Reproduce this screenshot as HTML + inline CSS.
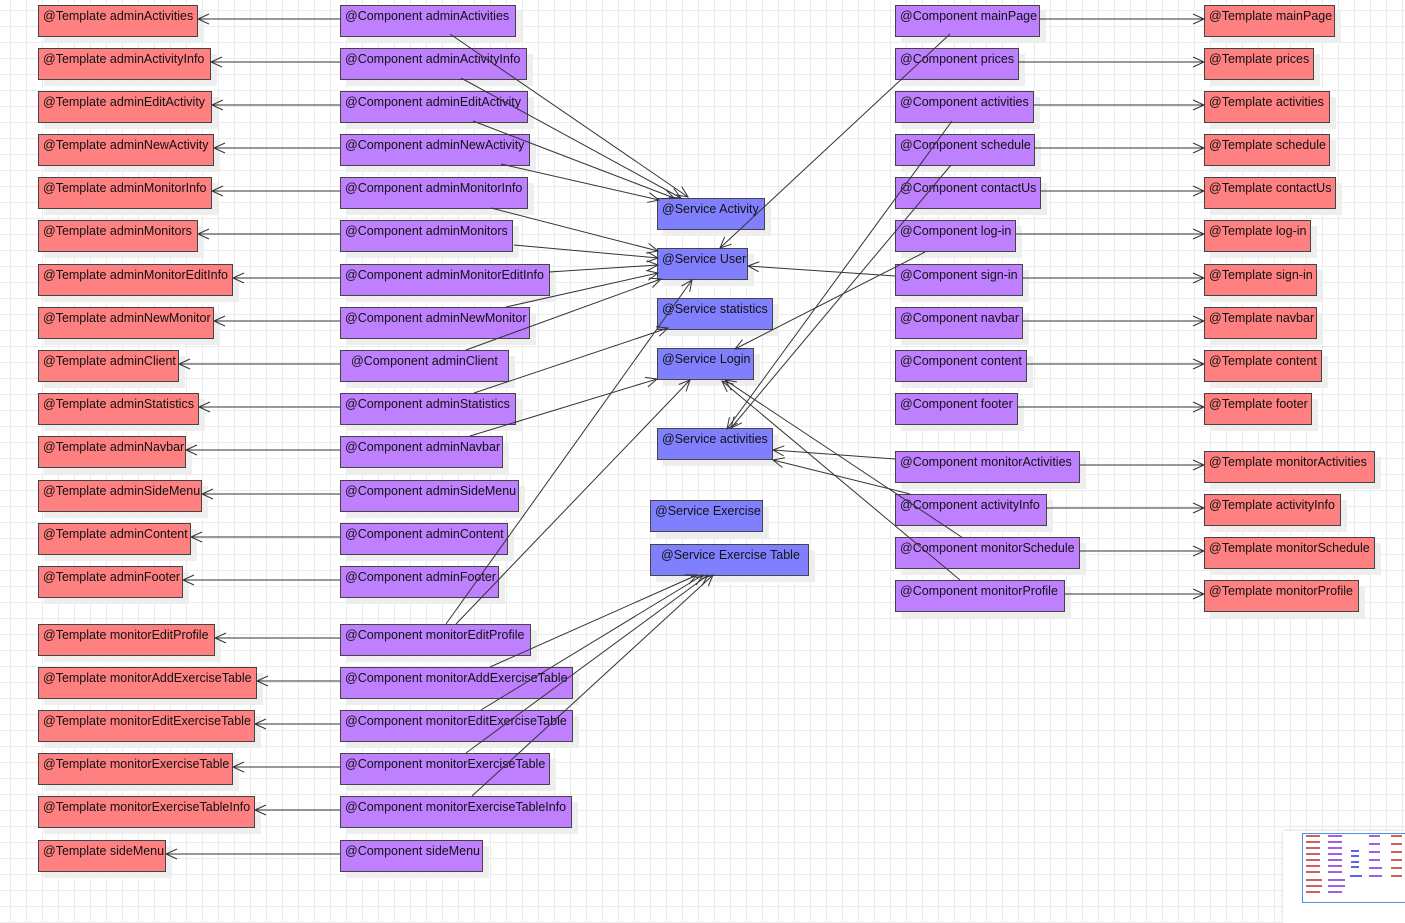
<!DOCTYPE html>
<html><head><meta charset="utf-8"><style>
body{margin:0;width:1405px;height:923px;overflow:hidden;background:#fff;
background-image:linear-gradient(#ebebeb 1px,transparent 1px),linear-gradient(90deg,#ebebeb 1px,transparent 1px);background-size:16px 16px;background-position:-6px -6px;font-family:"Liberation Sans",sans-serif;}
.b{position:absolute;height:27px;border:1px solid #444;box-sizing:content-box;font-size:12.5px;line-height:14px;padding:3px 0 0 4px;color:#111;white-space:nowrap;box-shadow:6px 6px 0 #eee;z-index:1}
.t{background:#ff8080}.c{background:#bf80ff}.s{background:#8080ff}
svg{position:absolute;left:0;top:0;z-index:2}
</style></head><body>
<svg width="1405" height="923">
<defs><marker id="a" viewBox="0 0 12 10" markerWidth="12" markerHeight="10" refX="11" refY="5" orient="auto" markerUnits="userSpaceOnUse" overflow="visible"><polyline points="0,0 11,5 0,10" fill="none" stroke="#333" stroke-width="1"/></marker></defs>
<g stroke="#333" stroke-width="1" fill="none" marker-end="url(#a)">
<line x1="340" y1="19" x2="198" y2="19"/>
<line x1="340" y1="62" x2="211" y2="62"/>
<line x1="340" y1="105" x2="212" y2="105"/>
<line x1="340" y1="148" x2="214" y2="148"/>
<line x1="340" y1="191" x2="212" y2="191"/>
<line x1="340" y1="234" x2="198" y2="234"/>
<line x1="340" y1="278" x2="233" y2="278"/>
<line x1="340" y1="321" x2="214" y2="321"/>
<line x1="340" y1="364" x2="179" y2="364"/>
<line x1="340" y1="407" x2="199" y2="407"/>
<line x1="340" y1="450" x2="186" y2="450"/>
<line x1="340" y1="494" x2="202" y2="494"/>
<line x1="340" y1="537" x2="191" y2="537"/>
<line x1="340" y1="580" x2="183" y2="580"/>
<line x1="340" y1="638" x2="215" y2="638"/>
<line x1="340" y1="681" x2="257" y2="681"/>
<line x1="340" y1="724" x2="255" y2="724"/>
<line x1="340" y1="767" x2="233" y2="767"/>
<line x1="340" y1="810" x2="255" y2="810"/>
<line x1="340" y1="854" x2="166" y2="854"/>
<line x1="1039" y1="19" x2="1204" y2="19"/>
<line x1="1018" y1="62" x2="1204" y2="62"/>
<line x1="1033" y1="105" x2="1204" y2="105"/>
<line x1="1034" y1="148" x2="1204" y2="148"/>
<line x1="1040" y1="191" x2="1204" y2="191"/>
<line x1="1015" y1="234" x2="1204" y2="234"/>
<line x1="1022" y1="278" x2="1204" y2="278"/>
<line x1="1022" y1="321" x2="1204" y2="321"/>
<line x1="1026" y1="364" x2="1204" y2="364"/>
<line x1="1017" y1="407" x2="1204" y2="407"/>
<line x1="1079" y1="465" x2="1204" y2="465"/>
<line x1="1046" y1="508" x2="1204" y2="508"/>
<line x1="1079" y1="551" x2="1204" y2="551"/>
<line x1="1064" y1="594" x2="1204" y2="594"/>
<line x1="450" y1="34" x2="688" y2="197"/>
<line x1="461" y1="78" x2="681" y2="198"/>
<line x1="473" y1="121" x2="674" y2="198"/>
<line x1="501" y1="164" x2="659" y2="200"/>
<line x1="491" y1="208" x2="658" y2="251"/>
<line x1="514" y1="245" x2="658" y2="258"/>
<line x1="549" y1="272" x2="658" y2="265"/>
<line x1="506" y1="307" x2="658" y2="273"/>
<line x1="466" y1="350" x2="661" y2="279"/>
<line x1="474" y1="393" x2="668" y2="328"/>
<line x1="470" y1="436" x2="657" y2="379"/>
<line x1="446" y1="624" x2="692" y2="280"/>
<line x1="456" y1="624" x2="690" y2="380"/>
<line x1="490" y1="667" x2="697" y2="575"/>
<line x1="481" y1="710" x2="703" y2="575"/>
<line x1="466" y1="753" x2="708" y2="575"/>
<line x1="472" y1="796" x2="713" y2="575"/>
<line x1="950" y1="34" x2="720" y2="248"/>
<line x1="895" y1="276" x2="748" y2="266"/>
<line x1="925" y1="252" x2="735" y2="349"/>
<line x1="952" y1="121" x2="727" y2="429"/>
<line x1="951" y1="165" x2="731" y2="428"/>
<line x1="895" y1="459" x2="773" y2="450"/>
<line x1="910" y1="494" x2="773" y2="460"/>
<line x1="963" y1="538" x2="725" y2="380"/>
<line x1="960" y1="580" x2="722" y2="381"/>
</g></svg>

<div class="b t" style="left:38px;top:5px;width:154px">@Template adminActivities</div>
<div class="b t" style="left:38px;top:48px;width:167px">@Template adminActivityInfo</div>
<div class="b t" style="left:38px;top:91px;width:168px">@Template adminEditActivity</div>
<div class="b t" style="left:38px;top:134px;width:170px">@Template adminNewActivity</div>
<div class="b t" style="left:38px;top:177px;width:168px">@Template adminMonitorInfo</div>
<div class="b t" style="left:38px;top:220px;width:154px">@Template adminMonitors</div>
<div class="b t" style="left:38px;top:264px;width:189px">@Template adminMonitorEditInfo</div>
<div class="b t" style="left:38px;top:307px;width:170px">@Template adminNewMonitor</div>
<div class="b t" style="left:38px;top:350px;width:135px">@Template adminClient</div>
<div class="b t" style="left:38px;top:393px;width:155px">@Template adminStatistics</div>
<div class="b t" style="left:38px;top:436px;width:142px">@Template adminNavbar</div>
<div class="b t" style="left:38px;top:480px;width:158px">@Template adminSideMenu</div>
<div class="b t" style="left:38px;top:523px;width:147px">@Template adminContent</div>
<div class="b t" style="left:38px;top:566px;width:139px">@Template adminFooter</div>
<div class="b t" style="left:38px;top:624px;width:171px">@Template monitorEditProfile</div>
<div class="b t" style="left:38px;top:667px;width:213px">@Template monitorAddExerciseTable</div>
<div class="b t" style="left:38px;top:710px;width:211px">@Template monitorEditExerciseTable</div>
<div class="b t" style="left:38px;top:753px;width:189px">@Template monitorExerciseTable</div>
<div class="b t" style="left:38px;top:796px;width:211px">@Template monitorExerciseTableInfo</div>
<div class="b t" style="left:38px;top:840px;width:122px">@Template sideMenu</div>

<div class="b c" style="left:340px;top:5px;width:170px">@Component adminActivities</div>
<div class="b c" style="left:340px;top:48px;width:181px">@Component adminActivityInfo</div>
<div class="b c" style="left:340px;top:91px;width:182px">@Component adminEditActivity</div>
<div class="b c" style="left:340px;top:134px;width:184px">@Component adminNewActivity</div>
<div class="b c" style="left:340px;top:177px;width:182px">@Component adminMonitorInfo</div>
<div class="b c" style="left:340px;top:220px;width:167px">@Component adminMonitors</div>
<div class="b c" style="left:340px;top:264px;width:204px">@Component adminMonitorEditInfo</div>
<div class="b c" style="left:340px;top:307px;width:184px">@Component adminNewMonitor</div>
<div class="b c" style="left:340px;top:350px;width:157px;padding-left:10px">@Component adminClient</div>
<div class="b c" style="left:340px;top:393px;width:170px">@Component adminStatistics</div>
<div class="b c" style="left:340px;top:436px;width:157px">@Component adminNavbar</div>
<div class="b c" style="left:340px;top:480px;width:173px">@Component adminSideMenu</div>
<div class="b c" style="left:340px;top:523px;width:162px">@Component adminContent</div>
<div class="b c" style="left:340px;top:566px;width:153px">@Component adminFooter</div>
<div class="b c" style="left:340px;top:624px;width:185px">@Component monitorEditProfile</div>
<div class="b c" style="left:340px;top:667px;width:227px">@Component monitorAddExerciseTable</div>
<div class="b c" style="left:340px;top:710px;width:227px">@Component monitorEditExerciseTable</div>
<div class="b c" style="left:340px;top:753px;width:204px">@Component monitorExerciseTable</div>
<div class="b c" style="left:340px;top:796px;width:226px">@Component monitorExerciseTableInfo</div>
<div class="b c" style="left:340px;top:840px;width:137px">@Component sideMenu</div>

<div class="b s" style="left:657px;top:198px;width:102px">@Service Activity</div>
<div class="b s" style="left:657px;top:248px;width:85px">@Service User</div>
<div class="b s" style="left:657px;top:298px;width:110px">@Service statistics</div>
<div class="b s" style="left:657px;top:348px;width:91px">@Service Login</div>
<div class="b s" style="left:657px;top:428px;width:110px">@Service activities</div>
<div class="b s" style="left:650px;top:500px;width:107px">@Service Exercise</div>
<div class="b s" style="left:650px;top:544px;width:147px;padding-left:10px">@Service Exercise Table</div>

<div class="b c" style="left:895px;top:5px;width:139px">@Component mainPage</div>
<div class="b c" style="left:895px;top:48px;width:118px">@Component prices</div>
<div class="b c" style="left:895px;top:91px;width:133px">@Component activities</div>
<div class="b c" style="left:895px;top:134px;width:134px">@Component schedule</div>
<div class="b c" style="left:895px;top:177px;width:140px">@Component contactUs</div>
<div class="b c" style="left:895px;top:220px;width:115px">@Component log-in</div>
<div class="b c" style="left:895px;top:264px;width:122px">@Component sign-in</div>
<div class="b c" style="left:895px;top:307px;width:122px">@Component navbar</div>
<div class="b c" style="left:895px;top:350px;width:126px">@Component content</div>
<div class="b c" style="left:895px;top:393px;width:117px">@Component footer</div>
<div class="b c" style="left:895px;top:451px;width:179px">@Component monitorActivities</div>
<div class="b c" style="left:895px;top:494px;width:146px">@Component activityInfo</div>
<div class="b c" style="left:895px;top:537px;width:179px">@Component monitorSchedule</div>
<div class="b c" style="left:895px;top:580px;width:164px">@Component monitorProfile</div>

<div class="b t" style="left:1204px;top:5px;width:125px">@Template mainPage</div>
<div class="b t" style="left:1204px;top:48px;width:104px">@Template prices</div>
<div class="b t" style="left:1204px;top:91px;width:120px">@Template activities</div>
<div class="b t" style="left:1204px;top:134px;width:120px">@Template schedule</div>
<div class="b t" style="left:1204px;top:177px;width:126px">@Template contactUs</div>
<div class="b t" style="left:1204px;top:220px;width:101px">@Template log-in</div>
<div class="b t" style="left:1204px;top:264px;width:107px">@Template sign-in</div>
<div class="b t" style="left:1204px;top:307px;width:107px">@Template navbar</div>
<div class="b t" style="left:1204px;top:350px;width:112px">@Template content</div>
<div class="b t" style="left:1204px;top:393px;width:102px">@Template footer</div>
<div class="b t" style="left:1204px;top:451px;width:165px">@Template monitorActivities</div>
<div class="b t" style="left:1204px;top:494px;width:131px">@Template activityInfo</div>
<div class="b t" style="left:1204px;top:537px;width:165px">@Template monitorSchedule</div>
<div class="b t" style="left:1204px;top:580px;width:149px">@Template monitorProfile</div>

<div style="position:absolute;z-index:3;left:1283px;top:831px;width:122px;height:92px;background:#fff;box-shadow:0 0 3px #ccc"></div>
<div style="position:absolute;z-index:4;left:1302px;top:833px;width:103px;height:68px;border:1px solid #4a90e2;border-right:none"></div>
<svg width="1405" height="923" style="z-index:5;pointer-events:none"><g stroke-width="2">
<g stroke="#d06060"><line x1="1306" y1="836" x2="1320" y2="836"/><line x1="1306" y1="842" x2="1320" y2="842"/><line x1="1306" y1="848" x2="1320" y2="848"/><line x1="1306" y1="854" x2="1320" y2="854"/><line x1="1306" y1="860" x2="1320" y2="860"/><line x1="1306" y1="866" x2="1320" y2="866"/><line x1="1306" y1="872" x2="1320" y2="872"/><line x1="1306" y1="880" x2="1322" y2="880"/><line x1="1306" y1="886" x2="1322" y2="886"/><line x1="1306" y1="892" x2="1320" y2="892"/><line x1="1391" y1="836" x2="1402" y2="836"/><line x1="1391" y1="844" x2="1402" y2="844"/><line x1="1391" y1="852" x2="1402" y2="852"/><line x1="1391" y1="860" x2="1402" y2="860"/><line x1="1391" y1="868" x2="1402" y2="868"/><line x1="1391" y1="876" x2="1402" y2="876"/></g>
<g stroke="#a060e0"><line x1="1328" y1="836" x2="1342" y2="836"/><line x1="1328" y1="842" x2="1342" y2="842"/><line x1="1328" y1="848" x2="1342" y2="848"/><line x1="1328" y1="854" x2="1342" y2="854"/><line x1="1328" y1="860" x2="1342" y2="860"/><line x1="1328" y1="866" x2="1342" y2="866"/><line x1="1328" y1="872" x2="1342" y2="872"/><line x1="1328" y1="880" x2="1345" y2="880"/><line x1="1328" y1="886" x2="1345" y2="886"/><line x1="1328" y1="892" x2="1342" y2="892"/><line x1="1369" y1="836" x2="1380" y2="836"/><line x1="1369" y1="844" x2="1380" y2="844"/><line x1="1369" y1="852" x2="1380" y2="852"/><line x1="1369" y1="860" x2="1380" y2="860"/><line x1="1369" y1="868" x2="1382" y2="868"/><line x1="1369" y1="876" x2="1382" y2="876"/></g>
<g stroke="#6060e0"><line x1="1351" y1="851" x2="1359" y2="851"/><line x1="1351" y1="856" x2="1359" y2="856"/><line x1="1351" y1="862" x2="1359" y2="862"/><line x1="1351" y1="867" x2="1359" y2="867"/><line x1="1350" y1="876" x2="1362" y2="876"/></g>
</g></svg>
</body></html>
